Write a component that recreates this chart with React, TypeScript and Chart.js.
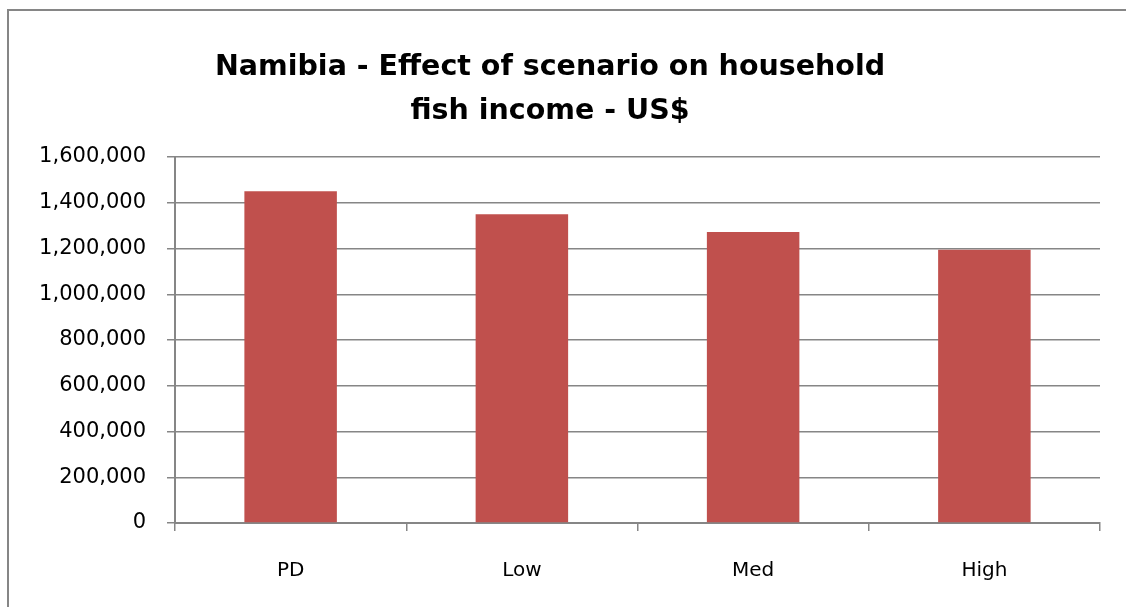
import React, { useEffect, useRef } from "react";
import { Chart, registerables } from "chart.js";

Chart.register(...registerables);

const categories = ["PD", "Low", "Med", "High"];
const incomeValues = [1450000, 1350000, 1272000, 1195000];
const titleLines = ["Namibia - Effect of scenario on household", "fish income - US$"];
const yMin = 0;
const yMax = 1600000;
const yStep = 200000;

const AXIS_GRAY = "#868686";
const BAR_RED = "#C0504D";
const FONT = "'DejaVu Sans', sans-serif";

const frameBorder = {
  id: "frameBorder",
  beforeDraw(chart: any) {
    const ctx = chart.ctx;
    ctx.save();
    ctx.fillStyle = "#ffffff";
    ctx.fillRect(0, 0, chart.width, chart.height);
    ctx.strokeStyle = AXIS_GRAY;
    ctx.lineWidth = 2;
    ctx.beginPath();
    ctx.moveTo(8, chart.height + 10);
    ctx.lineTo(8, 10);
    ctx.lineTo(chart.width + 10, 10);
    ctx.stroke();
    ctx.restore();
  },
};

export default function App() {
  const canvasRef = useRef<HTMLCanvasElement | null>(null);

  useEffect(() => {
    const canvas = canvasRef.current;
    if (!canvas) return;
    const chart = new Chart(canvas, {
      type: "bar",
      data: {
        labels: categories,
        datasets: [
          {
            label: "Household fish income",
            data: incomeValues,
            backgroundColor: BAR_RED,
            borderWidth: 0,
            barPercentage: 0.4,
            categoryPercentage: 1.0,
          },
        ],
      },
      plugins: [frameBorder],
      options: {
        animation: false,
        responsive: false,
        maintainAspectRatio: false,
        devicePixelRatio: 1,
        layout: { padding: { left: 0, right: 26, top: 0, bottom: 0 } },
        plugins: {
          legend: { display: false },
          tooltip: { enabled: false },
          title: {
            display: true,
            text: titleLines,
            color: "#000000",
            font: { family: FONT, size: 28.5, weight: "bold", lineHeight: 1.544 },
            padding: { top: 46, bottom: 23 },
          },
        },
        scales: {
          x: {
            type: "category",
            grid: {
              display: true,
              offset: true,
              drawOnChartArea: false,
              drawTicks: true,
              tickLength: 8,
              color: AXIS_GRAY,
              lineWidth: 1.5,
            },
            border: { display: true, color: AXIS_GRAY, width: 2 },
            ticks: {
              color: "#000000",
              font: { family: FONT, size: 20 },
              padding: 28,
              maxRotation: 0,
            },
            afterFit: (scale: any) => {
              scale.height = 84;
            },
          },
          y: {
            min: yMin,
            max: yMax,
            grid: {
              display: true,
              drawOnChartArea: true,
              drawTicks: true,
              tickLength: 8,
              color: AXIS_GRAY,
              lineWidth: 1.5,
            },
            border: { display: true, color: AXIS_GRAY, width: 2 },
            ticks: {
              stepSize: yStep,
              color: "#000000",
              font: { family: FONT, size: 21 },
              padding: 21,
              callback: (v: any) => Number(v).toLocaleString("en-US"),
            },
            afterFit: (scale: any) => {
              scale.width = 175;
            },
          },
        },
      },
    });
    return () => chart.destroy();
  }, []);

  return (
    <div style={{ position: "fixed", left: 0, top: 0, width: 1126, height: 607, background: "#ffffff", overflow: "hidden" }}>
      <canvas
        ref={canvasRef}
        width={1126}
        height={607}
        style={{ position: "absolute", left: 0, top: 0, width: 1126, height: 607 }}
      />
    </div>
  );
}
